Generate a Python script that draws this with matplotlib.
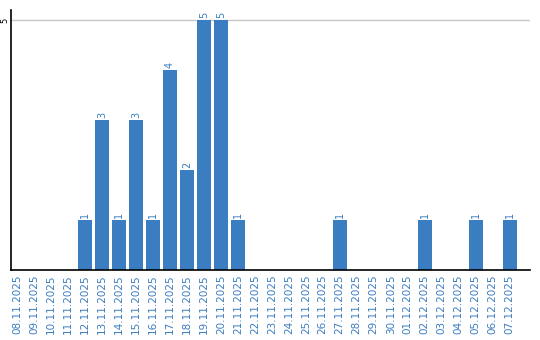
import matplotlib
matplotlib.use("Agg")
import matplotlib.pyplot as plt

# daily counts, 08.11.2025 .. 07.12.2025
dates = [
    "08.11.2025", "09.11.2025", "10.11.2025", "11.11.2025", "12.11.2025",
    "13.11.2025", "14.11.2025", "15.11.2025", "16.11.2025", "17.11.2025",
    "18.11.2025", "19.11.2025", "20.11.2025", "21.11.2025", "22.11.2025",
    "23.11.2025", "24.11.2025", "25.11.2025", "26.11.2025", "27.11.2025",
    "28.11.2025", "29.11.2025", "30.11.2025", "01.12.2025", "02.12.2025",
    "03.12.2025", "04.12.2025", "05.12.2025", "06.12.2025", "07.12.2025",
]
counts = [0, 0, 0, 0, 1, 3, 1, 3, 1, 4, 2, 5, 5, 1, 0,
          0, 0, 0, 0, 1, 0, 0, 0, 0, 1, 0, 0, 1, 0, 1]

blue = "#3b7dc1"

fig = plt.figure(figsize=(5.4, 3.4), dpi=100)
ax = fig.add_axes([10.5 / 540, 1 - 270 / 340, (530 - 10.5) / 540, 260 / 340])

x = list(range(len(dates)))
ax.bar(x, counts, width=0.82, color=blue, zorder=2)

for xi, c in zip(x, counts):
    if c > 0:
        ax.text(xi, c + 0.03, str(c), rotation=90, ha="center", va="bottom",
                fontsize=7, color=blue)

ax.set_xlim(-0.38, 30.2)
ax.set_ylim(0, 5.2)
ax.set_yticks([5])
ax.set_yticklabels(["5"], rotation=90, va="center", fontsize=6)
ax.set_xticks(x)
ax.set_xticklabels(dates, rotation=90, fontsize=7.5, color=blue)
ax.tick_params(axis="x", length=0, pad=3)
ax.tick_params(axis="y", length=0, pad=1)
ax.yaxis.grid(True, color="#c8c8c8", linewidth=1, zorder=0)

for s in ["top", "right"]:
    ax.spines[s].set_visible(False)
ax.spines["left"].set_linewidth(1.2)
ax.spines["bottom"].set_linewidth(1.2)

fig.savefig("out.png", dpi=100)
